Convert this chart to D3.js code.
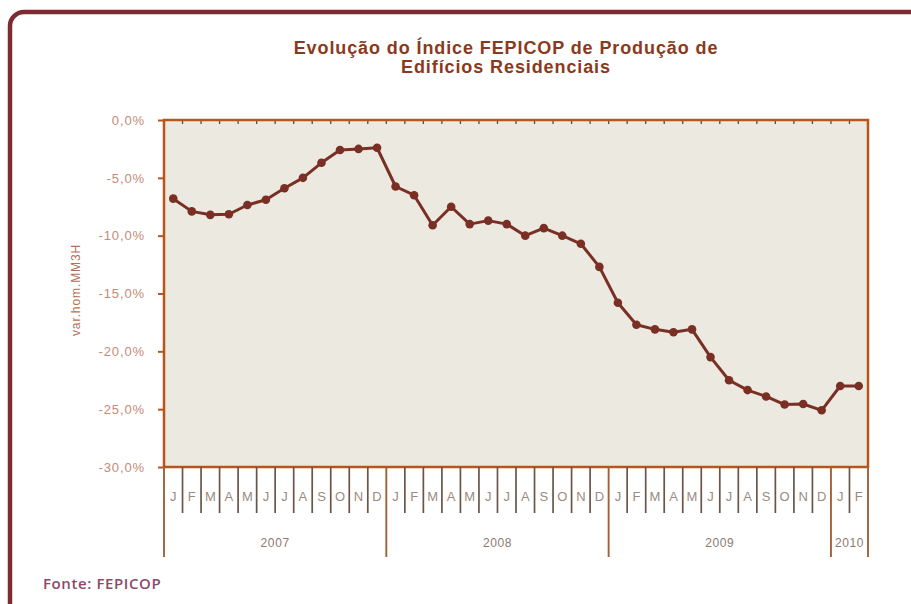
<!DOCTYPE html>
<html>
<head>
<meta charset="utf-8">
<script src="https://cdn.jsdelivr.net/npm/d3@7"></script>
<style>
  html, body { margin: 0; padding: 0; background: #ffffff; }
  svg { display: block; }
</style>
</head>
<body>
<svg id="chart" width="911" height="604"></svg>
<script>
// ---- data ----
const titleLines = ["Evolução do Índice FEPICOP de Produção de", "Edifícios Residenciais"];
const yAxisTitle = "var.hom.MM3H";
const sourceText = "Fonte: FEPICOP";
const years = ["2007", "2008", "2009", "2010"];
const monthsPerYear = [12, 12, 12, 2];
const monthLetters = ["J","F","M","A","M","J","J","A","S","O","N","D"];
const values = [
  -6.8, -7.9, -8.2, -8.15, -7.35, -6.9, -5.9, -5.0, -3.7, -2.6, -2.5, -2.4,
  -5.75, -6.5, -9.1, -7.5, -9.0, -8.7, -9.0, -10.0, -9.35, -10.0, -10.7, -12.7,
  -15.8, -17.7, -18.1, -18.35, -18.1, -20.5, -22.5, -23.35, -23.9, -24.6, -24.55, -25.1,
  -23.0, -23.0
];
const yTicks = [0, -5, -10, -15, -20, -25, -30];

// ---- build categories ----
const cats = [];
years.forEach((yr, yi) => {
  for (let m = 0; m < monthsPerYear[yi]; m++) cats.push({ year: yr, month: monthLetters[m], key: yr + "-" + m });
});

const svg = d3.select("#chart");
const plot = { left: 164, right: 868, top: 120, bottom: 467 };
const FONT = "'Liberation Sans', Arial, sans-serif";

// outer frame
svg.append("rect")
  .attr("x", 10).attr("y", 12).attr("width", 940).attr("height", 640)
  .attr("rx", 14).attr("ry", 14)
  .attr("fill", "#ffffff").attr("stroke", "#7d2a33").attr("stroke-width", 4.5);

// title
const title = svg.append("text")
  .attr("text-anchor", "middle")
  .attr("fill", "#8a3a1c")
  .attr("font-family", FONT)
  .attr("font-weight", "bold")
  .attr("font-size", 18)
  .attr("letter-spacing", 0.9);
titleLines.forEach((t, i) => {
  title.append("tspan").attr("x", 506).attr("y", 54 + i * 18.5).text(t);
});

const x = d3.scaleBand().domain(cats.map(d => d.key)).range([plot.left, plot.right]).padding(0);
const y = d3.scaleLinear().domain([-30, 0]).range([plot.bottom, plot.top]);

// plot background
svg.append("rect")
  .attr("x", plot.left).attr("y", plot.top)
  .attr("width", plot.right - plot.left).attr("height", plot.bottom - plot.top)
  .attr("fill", "#ece9e1");

// top small ticks at band boundaries
const boundaries = cats.map(d => x(d.key)).concat([plot.right]);
svg.append("g").selectAll("line").data(boundaries.slice(1, -1)).join("line")
  .attr("x1", d => d).attr("x2", d => d)
  .attr("y1", plot.top).attr("y2", plot.top + 4)
  .attr("stroke", "#5a4a40").attr("stroke-width", 1.3);

// y axis
const yAxis = d3.axisLeft(y).tickValues(yTicks).tickSize(6).tickPadding(13)
  .tickFormat(d => d3.format(".1f")(d).replace(".", ",").replace("−", "-") + "%");
const gy = svg.append("g").attr("transform", `translate(${plot.left},0)`).call(yAxis);
gy.select(".domain").remove();
gy.selectAll(".tick line").attr("stroke", "#b8561a").attr("stroke-width", 2);
gy.selectAll(".tick text")
  .attr("fill", "#c48a78")
  .attr("font-family", FONT)
  .attr("font-size", 13)
  .attr("letter-spacing", 0.9);

// y axis title
svg.append("text")
  .attr("transform", `translate(80,${290}) rotate(-90)`)
  .attr("text-anchor", "middle")
  .attr("fill", "#b07258")
  .attr("font-family", FONT)
  .attr("font-size", 12)
  .attr("letter-spacing", 0.9)
  .text(yAxisTitle);

// plot frame
svg.append("rect")
  .attr("x", plot.left).attr("y", plot.top)
  .attr("width", plot.right - plot.left).attr("height", plot.bottom - plot.top)
  .attr("fill", "none").attr("stroke", "#b8561a").attr("stroke-width", 2.5);

// month separators
const yearStartIdx = [];
let acc = 0;
monthsPerYear.forEach(n => { yearStartIdx.push(acc); acc += n; });
const yearBoundaryX = yearStartIdx.map(i => x(cats[i].key)).concat([plot.right]);

svg.append("g").selectAll("line")
  .data(boundaries.filter(b => !yearBoundaryX.some(yb => Math.abs(yb - b) < 0.5)))
  .join("line")
  .attr("x1", d => d).attr("x2", d => d)
  .attr("y1", plot.bottom).attr("y2", plot.bottom + 46)
  .attr("stroke", "#6a5548").attr("stroke-width", 1.7);

svg.append("g").selectAll("line").data(yearBoundaryX).join("line")
  .attr("x1", d => d).attr("x2", d => d)
  .attr("y1", plot.bottom).attr("y2", plot.bottom + 90)
  .attr("stroke", "#a0603a").attr("stroke-width", 1.9);

// month letters
svg.append("g").selectAll("text").data(cats).join("text")
  .attr("x", d => x(d.key) + x.bandwidth() / 2)
  .attr("y", 501)
  .attr("text-anchor", "middle")
  .attr("fill", "#9c8a80")
  .attr("font-family", FONT)
  .attr("font-size", 13)
  .text(d => d.month);

// year labels
svg.append("g").selectAll("text").data(years).join("text")
  .attr("x", (d, i) => (yearBoundaryX[i] + yearBoundaryX[i + 1]) / 2)
  .attr("y", 547)
  .attr("text-anchor", "middle")
  .attr("fill", "#8c7a70")
  .attr("font-family", FONT)
  .attr("font-size", 12)
  .attr("letter-spacing", 0.6)
  .text(d => d);

// line + markers
const cx = (d, i) => x(cats[i].key) + x.bandwidth() / 2;
const line = d3.line().x(cx).y(d => y(d));
svg.append("path").datum(values)
  .attr("d", line)
  .attr("fill", "none").attr("stroke", "#7a2f24").attr("stroke-width", 3)
  .attr("stroke-linejoin", "round");
svg.append("g").selectAll("circle").data(values).join("circle")
  .attr("cx", cx).attr("cy", d => y(d)).attr("r", 4.3)
  .attr("fill", "#7a2f24");

// source
svg.append("text")
  .attr("x", 43).attr("y", 589)
  .attr("fill", "#8a4a68")
  .attr("font-family", "'Open Sans', 'Liberation Sans', sans-serif")
  .attr("font-weight", "600")
  .attr("font-size", 15)
  .attr("letter-spacing", 0.6)
  .text(sourceText);
</script>
</body>
</html>
